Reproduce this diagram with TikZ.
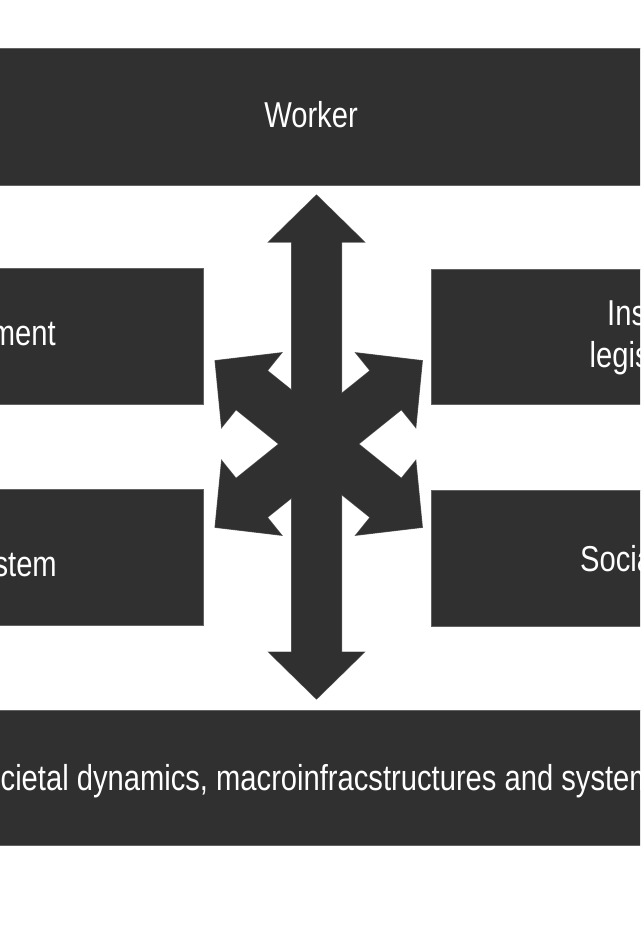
\documentclass[tikz,border=0pt]{standalone}
\usepackage{fontspec}
\setmainfont[FakeStretch=0.81]{Liberation Sans}
\definecolor{boxfill}{HTML}{303030}
\definecolor{boxedge}{HTML}{626262}

% double-headed block arrow along the x axis, #1 = half of its length
\newcommand\dblarrow[1]{(-#1,0) -- (-#1+47,-48) -- (-#1+47,-25) -- (#1-47,-25)
  -- (#1-47,-48) -- (#1,0) -- (#1-47,48) -- (#1-47,25) -- (-#1+47,25)
  -- (-#1+47,48) -- cycle}

\begin{document}
\begin{tikzpicture}[x=1pt,y=-1pt,
  panel/.style={rectangle, fill=boxfill, draw=boxedge, line width=0.8pt, inner sep=0pt},
  lbl/.style={text=white, inner sep=0pt, font=\fontsize{36}{42}\selectfont},
  arrowedge/.style={draw=boxedge, line width=1pt},
  arrowbody/.style={fill=boxfill},
]
\useasboundingbox (0,0) rectangle (640,939);
\fill[white] (0,0) rectangle (640,939);
\clip (0,0) rectangle (640,939);

% panels
\node[panel, minimum width=700pt, minimum height=137pt] (worker) at (311,116.5) {};
\node[panel, minimum width=700pt, minimum height=135pt] (society) at (313,777.5) {};
\node[panel, minimum width=340pt, minimum height=136pt] (envbox) at (33,336.5) {};
\node[panel, minimum width=340pt, minimum height=136pt] (sysbox) at (33,557) {};
\node[panel, minimum width=340pt, minimum height=135pt] (instbox) at (601,336.5) {};
\node[panel, minimum width=340pt, minimum height=136pt] (socbox) at (601,558) {};

% labels
\node[lbl, anchor=base] (tworker) at (311,127.5) {Worker};
\node[lbl, anchor=base west] (tsociety) at (0.5,790.5)
  {\llap{So}cietal dynamics, macroinfracstructures and systems};
\node[lbl, anchor=base east] (tenv) at (56,345) {Work environment};
\node[lbl, anchor=base east] (tsys) at (57,576.5) {Work system};
\node[lbl, anchor=base west] (tinst) at (607,325) {Institutions,};
\node[lbl, anchor=base west] (tleg) at (589.5,367) {legislation};
\node[lbl, anchor=base west] (tsoc) at (580,571) {Social partners};

% central star of three double arrows: outline first, then the fill on top
\def\arrowlist{316.5/447/90/252, 318.7/444/38.8/133, 318.7/444/-38.8/133}
\foreach \cx/\cy/\ang/\h in \arrowlist
  {\path[arrowedge, shift={(\cx,\cy)}, rotate=\ang] \dblarrow{\h};}
\foreach \cx/\cy/\ang/\h in \arrowlist
  {\path[arrowbody, shift={(\cx,\cy)}, rotate=\ang] \dblarrow{\h};}
\end{tikzpicture}
\end{document}
